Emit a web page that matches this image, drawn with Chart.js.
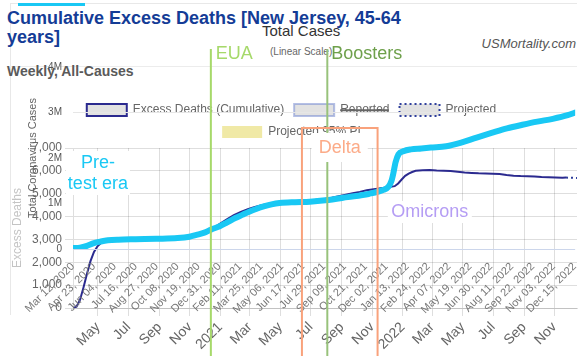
<!DOCTYPE html>
<html>
<head>
<meta charset="utf-8">
<script src="https://cdn.jsdelivr.net/npm/chart.js@4.4.1/dist/chart.umd.min.js"></script>
<style>
  html,body{margin:0;padding:0;background:#fff;}
  #wrap{position:relative;width:587px;height:356px;overflow:hidden;font-family:'Liberation Sans',Arial,sans-serif;}
  .abs{position:absolute;white-space:nowrap;}
  canvas{position:absolute;left:0;top:0;}
</style>
</head>
<body>
<div id="wrap">
  <div class="abs" style="left:10px;top:3px;width:567px;height:1px;background:#e8e8e8"></div>
  <div class="abs" style="left:10px;top:3px;width:1px;height:312px;background:#e8e8e8"></div>
  <div class="abs" style="left:18px;top:3px;width:67px;height:3px;background:#19c8f4"></div>
  <div class="abs" style="left:10px;top:66px;width:567px;height:1px;background:#ececec"></div>
  <div class="abs" style="left:7px;top:9px;font-size:18px;line-height:19px;font-weight:bold;color:#143c96">Cumulative Excess Deaths [New Jersey, 45-64<br>years]</div>
  <div class="abs" style="left:7px;top:63px;font-size:14px;line-height:16px;font-weight:bold;color:#5a5a5a">Weekly, All-Causes</div>
  <div class="abs" style="right:11px;top:36px;font-size:13px;line-height:15px;font-style:italic;color:#555">USMortality.com</div>
  <div class="abs" style="left:262px;top:22px;font-size:15px;line-height:17px;color:#333">Total Cases</div>
  <div class="abs" style="left:270px;top:46px;font-size:10px;line-height:12px;color:#666">(Linear Scale)</div>
  <canvas id="c1" width="587" height="356"></canvas>
  <canvas id="c2" width="587" height="356"></canvas>
</div>
<script>
// ---------- data ----------
const X_MIN_DATE = '2020-03-12';
const X_MAX_DATE = '2022-12-16';

const EXCESS_DATES = ['2020-03-12','2020-03-19','2020-03-26','2020-04-02','2020-04-09','2020-04-16','2020-04-23','2020-04-30','2020-05-07','2020-05-14','2020-05-21','2020-05-28','2020-06-11','2020-07-02','2020-07-23','2020-08-13','2020-09-03','2020-09-24','2020-10-15','2020-11-05','2020-11-19','2020-12-03','2020-12-17','2020-12-31','2021-01-14','2021-01-28','2021-02-11','2021-02-25','2021-03-11','2021-03-25','2021-04-08','2021-04-22','2021-05-06','2021-05-27','2021-06-17','2021-07-08','2021-07-29','2021-08-12','2021-08-26','2021-09-09','2021-09-23','2021-10-07','2021-10-21','2021-11-04','2021-11-18','2021-12-02','2021-12-16','2021-12-23','2021-12-30','2022-01-06','2022-01-13','2022-01-20','2022-01-27','2022-02-10','2022-02-24','2022-03-10','2022-03-24','2022-04-07','2022-04-21','2022-05-05','2022-05-19','2022-06-02','2022-06-16','2022-06-30','2022-07-14','2022-07-28','2022-08-11','2022-08-25','2022-09-08','2022-09-22','2022-10-06','2022-10-20','2022-11-03','2022-11-17','2022-11-24'];
const EXCESS_VALUES = [0,60,350,900,1500,2050,2450,2700,2840,2920,2960,2990,3010,3020,3040,3050,3060,3075,3090,3130,3200,3320,3480,3680,3880,4060,4200,4320,4420,4500,4560,4610,4640,4670,4700,4730,4770,4820,4890,4960,5020,5080,5150,5200,5240,5280,5330,5450,5620,5780,5880,5950,6000,6030,6040,6020,6010,5990,5960,5930,5910,5890,5880,5870,5860,5820,5790,5770,5760,5750,5730,5720,5710,5700,5705];

const PROJ_DATES = ['2022-11-24','2022-12-01','2022-12-08','2022-12-16'];
const PROJ_VALUES = [5705,5700,5695,5690];

const CASES_DATES = ['2020-03-12','2020-03-26','2020-04-09','2020-04-23','2020-05-07','2020-05-21','2020-06-11','2020-07-16','2020-08-27','2020-10-08','2020-11-01','2020-11-15','2020-12-01','2020-12-15','2021-01-01','2021-01-15','2021-02-01','2021-02-15','2021-03-01','2021-03-15','2021-04-01','2021-04-15','2021-05-01','2021-06-01','2021-07-01','2021-08-01','2021-09-15','2021-10-27','2021-11-26','2021-12-06','2021-12-12','2021-12-16','2021-12-20','2021-12-26','2022-01-05','2022-01-20','2022-02-10','2022-03-01','2022-04-01','2022-05-01','2022-06-01','2022-07-01','2022-08-01','2022-09-01','2022-10-01','2022-11-01','2022-12-01','2022-12-16'];
const CASES_VALUES = [20000,30000,70000,130000,165000,190000,205000,215000,225000,240000,270000,310000,360000,430000,500000,580000,680000,750000,820000,880000,940000,980000,1010000,1030000,1040000,1070000,1140000,1210000,1300000,1370000,1500000,1680000,1900000,2080000,2150000,2190000,2210000,2230000,2260000,2340000,2450000,2550000,2650000,2730000,2800000,2860000,2940000,3000000];

const X1_TICK_DATES = ['2020-05-01','2020-07-01','2020-09-01','2020-11-01','2021-01-01','2021-03-01','2021-05-01','2021-07-01','2021-09-01','2021-11-01','2022-01-01','2022-03-01','2022-05-01','2022-07-01','2022-09-01','2022-11-01'];
const X1_TICK_LABELS = ['May','Jul','Sep','Nov','2021','Mar','May','Jul','Sep','Nov','2022','Mar','May','Jul','Sep','Nov'];

const X2_TICK_DATES = ['2020-03-12','2020-04-23','2020-06-04','2020-07-16','2020-08-27','2020-10-08','2020-11-19','2020-12-31','2021-02-11','2021-03-25','2021-05-06','2021-06-17','2021-07-29','2021-09-09','2021-10-21','2021-12-02','2022-01-13','2022-02-24','2022-04-07','2022-05-19','2022-06-30','2022-08-11','2022-09-22','2022-11-03','2022-12-15'];
const X2_TICK_LABELS = ['Mar 12, 2020','Apr 23, 2020','Jun 04, 2020','Jul 16, 2020','Aug 27, 2020','Oct 08, 2020','Nov 19, 2020','Dec 31, 2020','Feb 11, 2021','Mar 25, 2021','May 06, 2021','Jun 17, 2021','Jul 29, 2021','Sep 09, 2021','Oct 21, 2021','Dec 02, 2021','Jan 13, 2022','Feb 24, 2022','Apr 07, 2022','May 19, 2022','Jun 30, 2022','Aug 11, 2022','Sep 22, 2022','Nov 03, 2022','Dec 15, 2022'];

const EUA_DATE = '2020-12-14';
const BOOSTER_DATE = '2021-08-05';
const DELTA_START = '2021-06-15', DELTA_END = '2021-11-14';
const PRETEST_DATE = '2020-05-01';
const OMICRON_DATE = '2022-02-27';

// ---------- helpers ----------
const day = s => Date.UTC(+s.slice(0,4), +s.slice(5,7)-1, +s.slice(8,10)) / 864e5;
const pts = (ds, vs) => ds.map((d,i) => ({x: day(d), y: vs[i]}));
const X_MIN = day(X_MIN_DATE), X_MAX = day(X_MAX_DATE);

Chart.defaults.font.family = "'Liberation Sans', Arial, Helvetica, sans-serif";
Chart.defaults.color = '#666';

const x1Map = {}; X1_TICK_DATES.forEach((d,i) => x1Map[day(d)] = X1_TICK_LABELS[i]);
const x2Map = {}; X2_TICK_DATES.forEach((d,i) => x2Map[day(d)] = X2_TICK_LABELS[i]);

const GRID = 'rgba(0,0,0,0.13)';

// ---------- chart 1: excess deaths ----------
new Chart(document.getElementById('c1'), {
  type: 'line',
  data: { datasets: [
    { label: 'Excess Deaths (Cumulative)', data: pts(EXCESS_DATES, EXCESS_VALUES), borderColor: '#2b2a8f', backgroundColor: '#e2e2e2', borderWidth: 2, pointRadius: 0, tension: 0 },
    { label: 'Reported', data: [], borderColor: 'rgba(120,140,210,0.55)', backgroundColor: '#e2e2e2', borderWidth: 2, hidden: true },
    { label: 'Projected', data: pts(PROJ_DATES, PROJ_VALUES), borderColor: '#2f3f9c', backgroundColor: '#e2e2e2', borderWidth: 2, borderDash: [2,3], pointRadius: 0 },
    { label: 'Projected 95% PI', data: [], borderColor: '#f0e9a6', backgroundColor: '#f0e9a6', borderWidth: 0 }
  ]},
  options: {
    responsive: false, animation: false, devicePixelRatio: 1,
    layout: { padding: { left: 6, right: 10, top: 94, bottom: 0 } },
    plugins: { legend: { labels: { color: '#666', font: { size: 12 } } }, tooltip: { enabled: false } },
    scales: {
      x: {
        type: 'linear', min: X_MIN, max: X_MAX,
        grid: { color: GRID }, border: { color: GRID },
        afterBuildTicks: s => { s.ticks = X1_TICK_DATES.map(d => ({ value: day(d) })); },
        ticks: { autoSkip: false, minRotation: 45, maxRotation: 45, color: '#666', font: { size: 14 }, callback: v => x1Map[v] || '' },
        afterFit: s => { s.height = 48; }
      },
      y: {
        min: 0, max: 7000,
        grid: { color: GRID }, border: { color: GRID },
        ticks: { stepSize: 1000, color: '#666', font: { size: 12 }, callback: v => v.toLocaleString('en-US') },
        title: { display: true, text: 'Excess Deaths', color: '#c4c4c4', font: { size: 12 } },
        afterFit: s => { s.width = 67; }
      }
    }
  }
});

// ---------- annotations (drawn on top) ----------
const annot = {
  id: 'annot',
  afterDraw(chart) {
    const ctx = chart.ctx, xs = chart.scales.x, H = chart.height;
    const px = d => xs.getPixelForValue(day(d));
    ctx.save();
    const vline = (x, top, color) => { ctx.strokeStyle = color; ctx.lineWidth = 2; ctx.beginPath(); ctx.moveTo(x, top); ctx.lineTo(x, H + 5); ctx.stroke(); };
    const xe = px(EUA_DATE), xb = px(BOOSTER_DATE), xd1 = px(DELTA_START), xd2 = px(DELTA_END);
    vline(xe, 49, '#a6d96a');
    vline(xb, 49, '#98c27b');
    ctx.strokeStyle = '#f9a27c'; ctx.lineWidth = 2;
    ctx.strokeRect(xd1, 128, xd2 - xd1, H);
    ctx.font = "18px 'Liberation Sans', Arial, sans-serif";
    ctx.textBaseline = 'alphabetic';
    ctx.textAlign = 'left';
    ctx.fillStyle = '#a6d96a'; ctx.fillText('EUA', xe + 5, 59);
    ctx.fillStyle = '#6ea04b'; ctx.fillText('Boosters', xb + 4, 59);
    // Delta
    const xdc = (xd1 + xd2) / 2;
    ctx.fillStyle = '#fff'; ctx.fillRect(xdc - 28, 133, 56, 29);
    ctx.textAlign = 'center';
    ctx.fillStyle = '#fcab88'; ctx.fillText('Delta', xdc, 153);
    // Pre-test era
    const xp = px(PRETEST_DATE);
    ctx.fillStyle = '#fff'; ctx.fillRect(xp - 32, 151, 64, 44);
    ctx.fillStyle = '#19c8f4';
    ctx.fillText('Pre-', xp, 168);
    ctx.fillText('test era', xp, 189);
    // Omicrons
    const xo = px(OMICRON_DATE);
    ctx.fillStyle = '#fff'; ctx.fillRect(xo - 42, 201, 84, 22);
    ctx.fillStyle = '#b59df4'; ctx.fillText('Omicrons', xo, 217);
    ctx.restore();
  }
};

// ---------- chart 2: total cases ----------
new Chart(document.getElementById('c2'), {
  type: 'line',
  data: { datasets: [
    { label: 'Total Cases', data: pts(CASES_DATES, CASES_VALUES), borderColor: '#19c8f4', borderWidth: 6, pointRadius: 0, cubicInterpolationMode: 'monotone', borderCapStyle: 'round' }
  ]},
  options: {
    responsive: false, animation: false, devicePixelRatio: 1,
    layout: { padding: { left: 22, right: 10, top: 67, bottom: 0 } },
    plugins: { legend: { display: false }, tooltip: { enabled: false } },
    scales: {
      x: {
        type: 'linear', min: X_MIN, max: X_MAX,
        grid: { color: 'transparent', tickColor: 'transparent' },
        border: { display: false },
        afterBuildTicks: s => { s.ticks = X2_TICK_DATES.map(d => ({ value: day(d) })); },
        ticks: { autoSkip: false, minRotation: 45, maxRotation: 45, color: '#777', font: { size: 11 }, callback: v => x2Map[v] || '' },
        afterFit: s => { s.height = 107; }
      },
      y: {
        min: 0, max: 4000000,
        grid: { color: c => c.tick && c.tick.value === 0 ? '#ccd6eb' : (c.tick && c.tick.value === 3000000 ? '#e6e6e6' : 'transparent'), tickColor: 'transparent' },
        border: { display: false },
        ticks: { stepSize: 1000000, autoSkip: false, color: '#555', font: { size: 10 }, callback: v => v === 0 ? '0' : (v / 1000000) + 'M' },
        title: { display: true, text: 'Total Coronavirus Cases', color: '#666', font: { size: 11 } },
        afterFit: s => { s.width = 51; }
      }
    }
  },
  plugins: [annot]
});
</script>
</body>
</html>
